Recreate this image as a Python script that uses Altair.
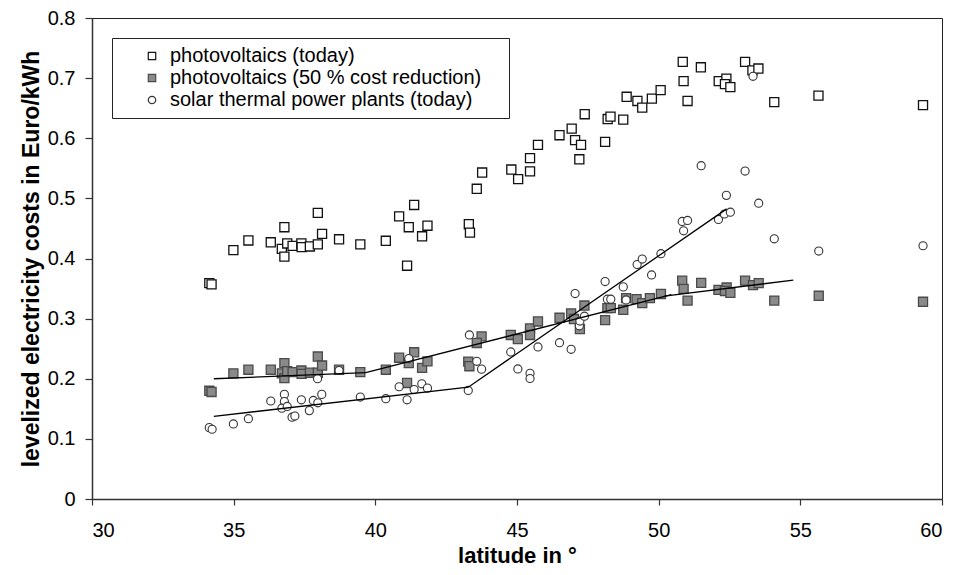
import altair as alt
import pandas as pd

SERIES = [
    "photovoltaics (today)",
    "photovoltaics (50 % cost reduction)",
    "solar thermal power plants (today)",
]

pv_today_lat = [34.14, 34.22, 34.99, 35.52, 36.31, 36.79, 36.70, 36.79, 36.89, 37.08,
                37.39, 37.40, 37.69, 37.97, 38.12, 37.97, 38.72, 39.47, 40.37, 40.84,
                41.18, 41.65, 41.84, 41.12, 41.37, 43.30, 43.34, 43.58, 43.77, 44.80,
                45.04, 45.46, 45.46, 45.74, 46.50, 46.93, 47.05, 47.26, 47.20, 47.39,
                48.11, 48.20, 48.30, 48.75, 48.87, 49.25, 49.42, 49.76, 50.07, 50.85,
                50.88, 51.02, 51.49, 52.12, 52.39, 52.34, 52.53, 53.05, 53.31, 53.52,
                54.08, 55.64, 59.33]
pv_today_val = [0.359, 0.357, 0.414, 0.430, 0.427, 0.452, 0.416, 0.403, 0.425, 0.421,
                0.425, 0.419, 0.420, 0.4235, 0.441, 0.476, 0.432, 0.4235, 0.4295, 0.470,
                0.452, 0.437, 0.4545, 0.388, 0.489, 0.457, 0.443, 0.516, 0.543, 0.548,
                0.532, 0.567, 0.545, 0.589, 0.605, 0.616, 0.597, 0.589, 0.565, 0.640,
                0.594, 0.632, 0.636, 0.631, 0.669, 0.662, 0.651, 0.666, 0.680, 0.727,
                0.695, 0.662, 0.718, 0.695, 0.699, 0.690, 0.685, 0.727, 0.713, 0.716,
                0.660, 0.671, 0.655]

pv50_lat = [34.14, 34.22, 34.99, 35.52, 36.31, 36.79, 36.70, 36.79, 36.89, 37.08,
            37.39, 37.40, 37.69, 37.97, 37.97, 38.12, 38.72, 39.47, 40.37, 40.84,
            41.18, 41.37, 41.65, 41.84, 41.12, 43.28, 43.32, 43.75, 43.58, 44.78,
            45.03, 45.46, 45.46, 45.74, 46.50, 46.91, 47.01, 47.22, 47.38, 48.11,
            48.19, 48.31, 48.75, 48.85, 49.22, 49.42, 49.69, 50.08, 50.83, 50.88,
            51.02, 51.50, 52.11, 52.40, 52.34, 52.53, 53.05, 53.33, 53.53, 54.08,
            55.65, 59.33]
pv50_val = [0.180, 0.178, 0.209, 0.215, 0.215, 0.226, 0.209, 0.201, 0.2125, 0.211,
            0.2137, 0.208, 0.210, 0.237, 0.210, 0.222, 0.215, 0.211, 0.215, 0.235,
            0.226, 0.244, 0.218, 0.229, 0.193, 0.2286, 0.2208, 0.2705, 0.2595, 0.2728,
            0.266, 0.2837, 0.2728, 0.2953, 0.3014, 0.3086, 0.2993, 0.2827, 0.3218, 0.2976,
            0.3175, 0.3175, 0.3147, 0.334, 0.3324, 0.3258, 0.334, 0.341, 0.3632, 0.3495,
            0.330, 0.3594, 0.3478, 0.3517, 0.346, 0.3428, 0.3632, 0.3556, 0.359, 0.330,
            0.338, 0.328]

st_lat = [34.14, 34.24, 34.99, 35.52, 36.31, 36.79, 36.79, 36.70, 36.89, 37.06,
          37.16, 37.39, 37.67, 37.81, 37.97, 38.11, 37.96, 38.72, 39.47, 40.37,
          40.84, 41.18, 41.12, 41.37, 41.64, 41.84, 43.28, 43.32, 43.58, 43.75,
          44.78, 45.03, 45.46, 45.46, 45.74, 46.50, 46.91, 47.05, 47.20, 47.22,
          47.38, 48.11, 48.19, 48.31, 48.75, 48.85, 49.24, 49.42, 49.75, 50.08,
          50.83, 51.02, 50.88, 51.50, 52.11, 52.39, 52.32, 52.53, 53.05, 53.33,
          53.53, 54.08, 55.65, 59.33]
st_val = [0.1187, 0.116, 0.1248, 0.1336, 0.163, 0.174, 0.162, 0.151, 0.154, 0.136,
          0.138, 0.165, 0.147, 0.164, 0.160, 0.174, 0.200, 0.2137, 0.1695, 0.1668,
          0.1867, 0.2335, 0.165, 0.182, 0.1916, 0.1844, 0.1805, 0.2728, 0.229, 0.216,
          0.2446, 0.2164, 0.209, 0.2004, 0.2529, 0.260, 0.249, 0.3417, 0.288, 0.296,
          0.304, 0.3616, 0.3324, 0.3324, 0.3528, 0.331, 0.390, 0.399, 0.3727, 0.408,
          0.4616, 0.4633, 0.446, 0.5544, 0.465, 0.505, 0.474, 0.477, 0.5454, 0.703,
          0.492, 0.4328, 0.4124, 0.4212]

# piecewise trend lines
trend_seg = ["pv50_a", "pv50_a", "pv50_b", "pv50_b", "pv50_c", "pv50_c", "st", "st", "st"]
trend_lat = [34.3, 39.66, 39.66, 50.45, 50.2, 54.75, 34.3, 43.28, 52.40]
trend_val = [0.200, 0.2103, 0.2103, 0.340, 0.3375, 0.364, 0.1375, 0.186, 0.4825]

x_ticks = [30, 35, 40, 45, 50, 55, 60]
y_ticks = [0, 0.1, 0.2, 0.3, 0.4, 0.5, 0.6, 0.7, 0.8]


def frame(name, lats, vals):
    return pd.DataFrame({"series": name, "lat": lats, "cost": vals})


pv_df = pd.concat([frame(SERIES[0], pv_today_lat, pv_today_val),
                   frame(SERIES[1], pv50_lat, pv50_val)], ignore_index=True)
st_df = frame(SERIES[2], st_lat, st_val)
trend = pd.DataFrame({"seg": trend_seg, "lat": trend_lat, "cost": trend_val})

FONT = "Liberation Sans"

x_enc = alt.X("lat:Q",
              scale=alt.Scale(domain=[30, 60], nice=False, zero=False),
              axis=alt.Axis(values=x_ticks, title="latitude in °", tickSize=6,
                            labelPadding=15, titlePadding=5, format="d",
                            titleFontSize=22))
y_enc = alt.Y("cost:Q",
              scale=alt.Scale(domain=[0, 0.8], nice=False),
              axis=alt.Axis(values=y_ticks, title="levelized electricity costs in Euro/kWh",
                            tickSize=7, labelPadding=10, titlePadding=4,
                            titleFontSize=23,
                            labelExpr="datum.value == 0 ? '0' : format(datum.value, '.1f')"))

leg = alt.Legend(title="\u00a0", titleOrient="right", titlePadding=20, titleFontSize=8,
                 orient="top-left", offset=20,
                 strokeColor="#222222", fillColor="white", padding=8,
                 symbolOffset=22, labelOffset=8, labelFontSize=20, labelFont=FONT,
                 labelColor="black", symbolSize=55, symbolStrokeWidth=1.2,
                 rowPadding=2, labelLimit=600)

enc = dict(
    x=x_enc,
    y=y_enc,
    shape=alt.Shape("series:N", scale=alt.Scale(domain=SERIES, range=["square", "square", "circle"]), legend=leg),
    fill=alt.Fill("series:N", scale=alt.Scale(domain=SERIES, range=["white", "#8a8a8a", "white"]), legend=leg),
    stroke=alt.Stroke("series:N", scale=alt.Scale(domain=SERIES, range=["#111111", "#4a4a4a", "#333333"]), legend=leg),
)

squares = alt.Chart(pv_df).mark_point(filled=True, opacity=1, strokeWidth=1.3, size=82).encode(**enc)
circles = alt.Chart(st_df).mark_point(filled=True, opacity=1, strokeWidth=1.1, size=66).encode(**enc)

lines = alt.Chart(trend).mark_line(color="black", strokeWidth=1.3).encode(
    x="lat:Q", y="cost:Q", detail="seg:N"
)

chart = alt.layer(squares, circles, lines).properties(
    width=850, height=481,
    padding={"left": 84, "top": 10, "right": 6, "bottom": 68},
    autosize=alt.AutoSizeParams(type="none"),
).configure_view(
    stroke="#222222", strokeWidth=1
).configure_axis(
    grid=False, labelFont=FONT, labelFontSize=20, labelColor="black",
    titleFont=FONT, titleFontWeight="bold", titleColor="black",
    domainColor="#333333", domainWidth=1.5, tickColor="#333333", tickWidth=1.2,
)

chart.save("out.html", embed_options={"renderer": "svg", "actions": False})
